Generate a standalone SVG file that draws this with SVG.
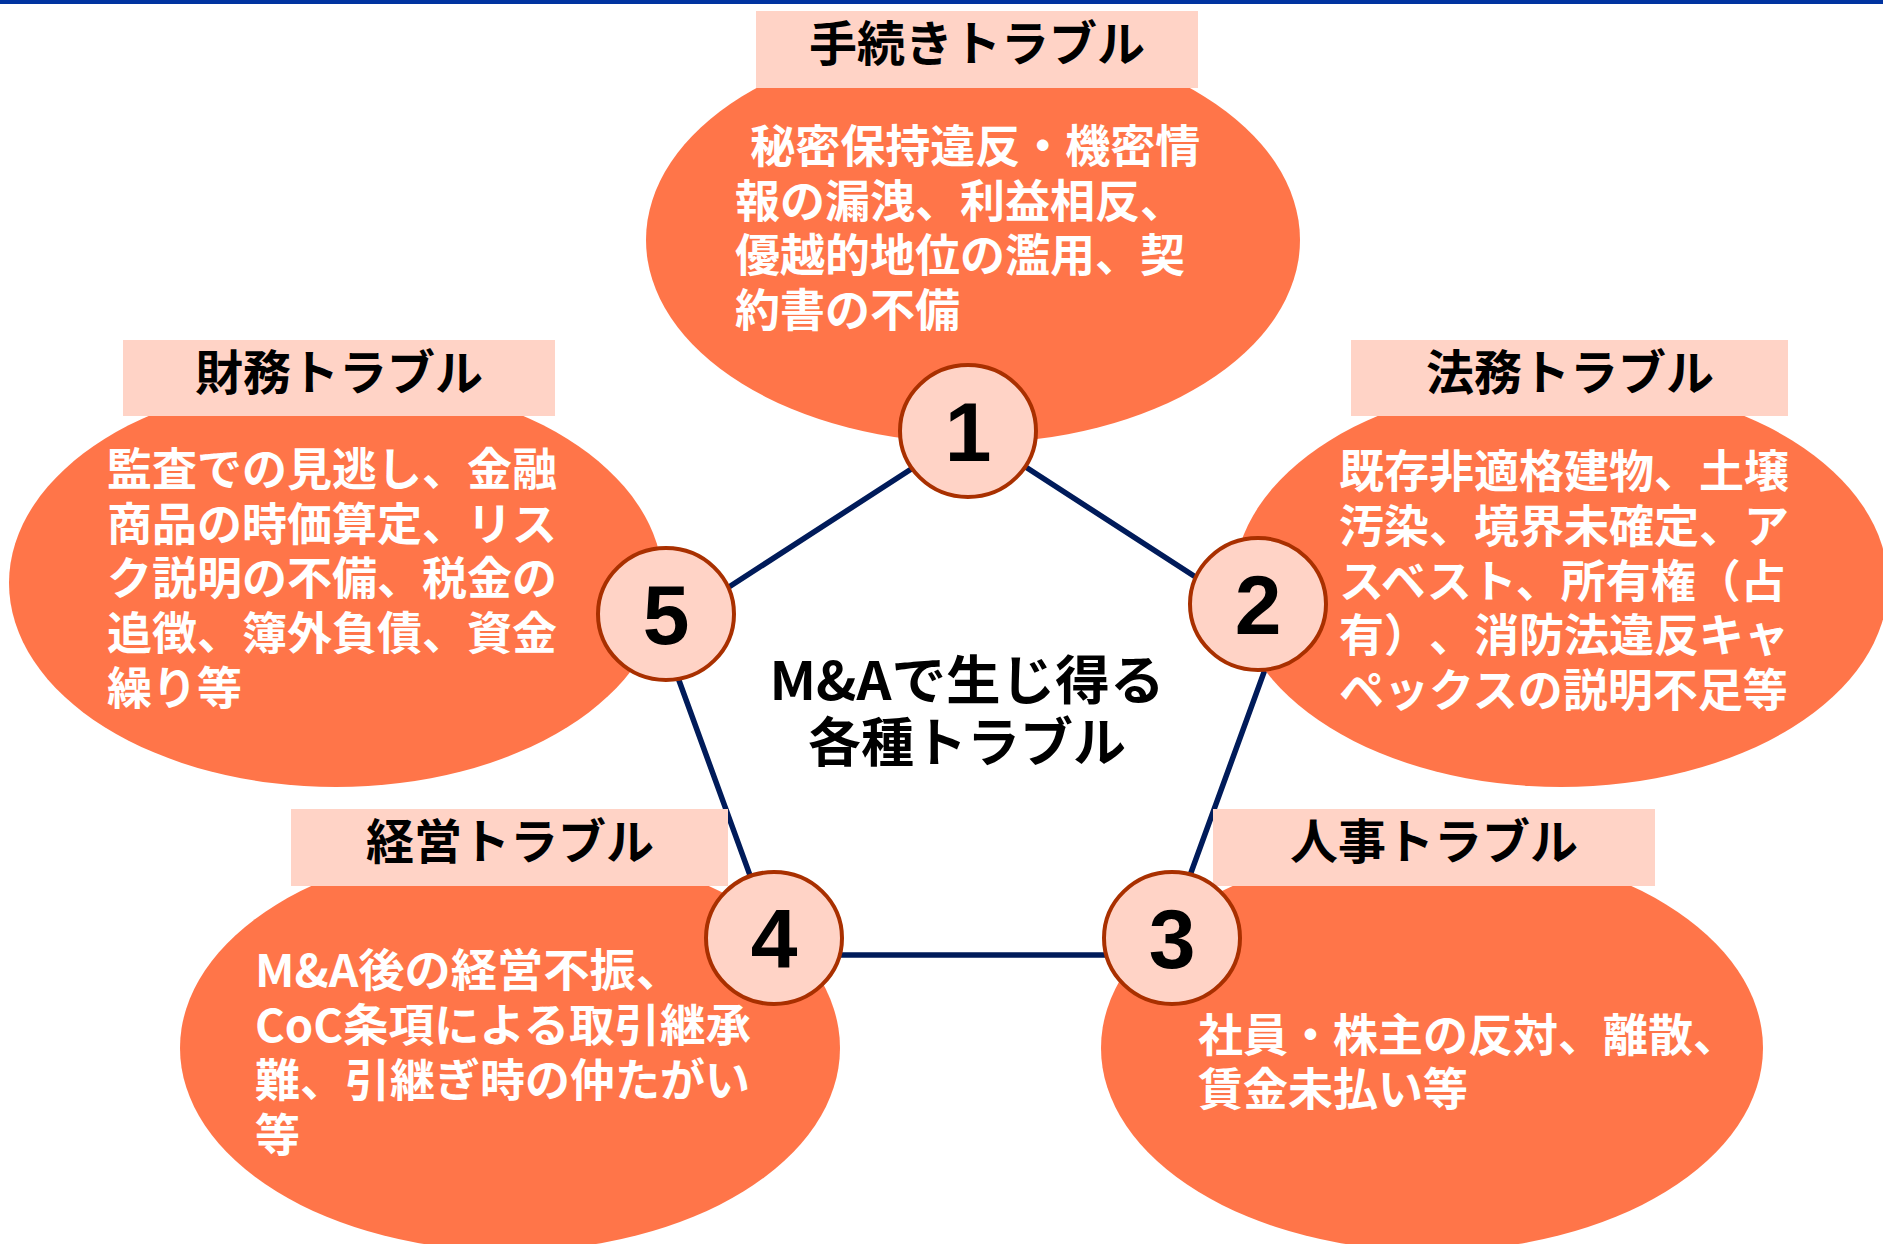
<svg xmlns="http://www.w3.org/2000/svg" width="1883" height="1244" viewBox="0 0 1883 1244">
<style>
text{text-spacing-trim:space-all;}
.ell{fill:#FF7549;}
.box{fill:#FFD3C6;}
.ttl{font-family:"Noto Sans CJK JP","Noto Sans",sans-serif;font-weight:700;font-size:48px;fill:#000;text-anchor:middle;}
.body{font-family:"Noto Sans CJK JP","Noto Sans",sans-serif;font-weight:700;font-size:45px;fill:#fff;}
.num{fill:#FFD3C6;stroke:#A93000;stroke-width:4;}
.numt{font-family:"Liberation Sans",Arial,sans-serif;font-weight:700;font-size:84px;fill:#000;text-anchor:middle;}
.ctr{font-family:"Noto Sans CJK JP","Noto Sans",sans-serif;font-weight:700;font-size:53px;fill:#000;text-anchor:middle;}
.con{stroke:#001B5A;stroke-width:5.5;fill:none;stroke-linejoin:miter;}
</style>
<rect x="0" y="0" width="1883" height="4" fill="#0033A0"/>
<g id="connectors">
<polygon class="con" points="970,431 1279,631 1161,955 779,955 661,631"/>
</g>
<g id="node1">
<ellipse class="ell" cx="973" cy="240" rx="327" ry="203"/>
<rect class="box" x="756" y="11" width="442" height="77"/>
<text class="ttl" x="977" y="61">手続きトラブル</text>
<text class="body" xml:space="preserve"><tspan x="740" y="163"> 秘密保持違反・機密情</tspan><tspan x="735" y="218">報の漏洩、利益相反、</tspan><tspan x="735" y="272">優越的地位の濫用、契</tspan><tspan x="735" y="327">約書の不備</tspan></text>
<ellipse class="num" cx="968" cy="431" rx="68" ry="66"/>
<text class="numt" x="968" y="461">1</text>
</g>
<g id="node2">
<ellipse class="ell" cx="1561" cy="584" rx="327" ry="203"/>
<rect class="box" x="1351" y="340" width="437" height="76"/>
<text class="ttl" x="1570" y="390">法務トラブル</text>
<text class="body"><tspan x="1339" y="488">既存非適格建物、土壌</tspan><tspan x="1339" y="543">汚染、境界未確定、ア</tspan><tspan x="1339" y="598">スベスト、所有権（占</tspan><tspan x="1339" y="652">有）、消防法違反キャ</tspan><tspan x="1339" y="707">ペックスの説明不足等</tspan></text>
<ellipse class="num" cx="1258" cy="604" rx="68" ry="66"/>
<text class="numt" x="1258" y="634">2</text>
</g>
<g id="node3">
<ellipse class="ell" cx="1432" cy="1048" rx="331" ry="203"/>
<rect class="box" x="1213" y="809" width="442" height="77"/>
<text class="ttl" x="1434" y="859">人事トラブル</text>
<text class="body"><tspan x="1198" y="1052">社員・株主の反対、離散、</tspan><tspan x="1198" y="1106">賃金未払い等</tspan></text>
<ellipse class="num" cx="1172" cy="938" rx="68" ry="66"/>
<text class="numt" x="1172" y="968">3</text>
</g>
<g id="node4">
<ellipse class="ell" cx="510" cy="1048" rx="330" ry="203"/>
<rect class="box" x="291" y="809" width="437" height="77"/>
<text class="ttl" x="510" y="859">経営トラブル</text>
<text class="body" x="255" y="987" textLength="427" lengthAdjust="spacingAndGlyphs">M&amp;A後の経営不振、</text>
<text class="body" x="255" y="1042" textLength="496" lengthAdjust="spacingAndGlyphs">CoC条項による取引継承</text>
<text class="body"><tspan x="255" y="1097">難、引継ぎ時の仲たがい</tspan><tspan x="255" y="1152">等</tspan></text>
<ellipse class="num" cx="774" cy="938" rx="68" ry="66"/>
<text class="numt" x="774" y="968">4</text>
</g>
<g id="node5">
<ellipse class="ell" cx="336" cy="583" rx="327" ry="204"/>
<rect class="box" x="123" y="340" width="432" height="76"/>
<text class="ttl" x="339" y="390">財務トラブル</text>
<text class="body"><tspan x="107" y="486">監査での見逃し、金融</tspan><tspan x="107" y="541">商品の時価算定、リス</tspan><tspan x="107" y="595">ク説明の不備、税金の</tspan><tspan x="107" y="650">追徴、簿外負債、資金</tspan><tspan x="107" y="705">繰り等</tspan></text>
<ellipse class="num" cx="666" cy="614" rx="68" ry="66"/>
<text class="numt" x="666" y="644">5</text>
</g>
<g id="center">
<text class="ctr" x="967" y="700" textLength="395" lengthAdjust="spacingAndGlyphs">M&amp;Aで生じ得る</text>
<text class="ctr" x="967" y="762">各種トラブル</text>
</g>
</svg>
